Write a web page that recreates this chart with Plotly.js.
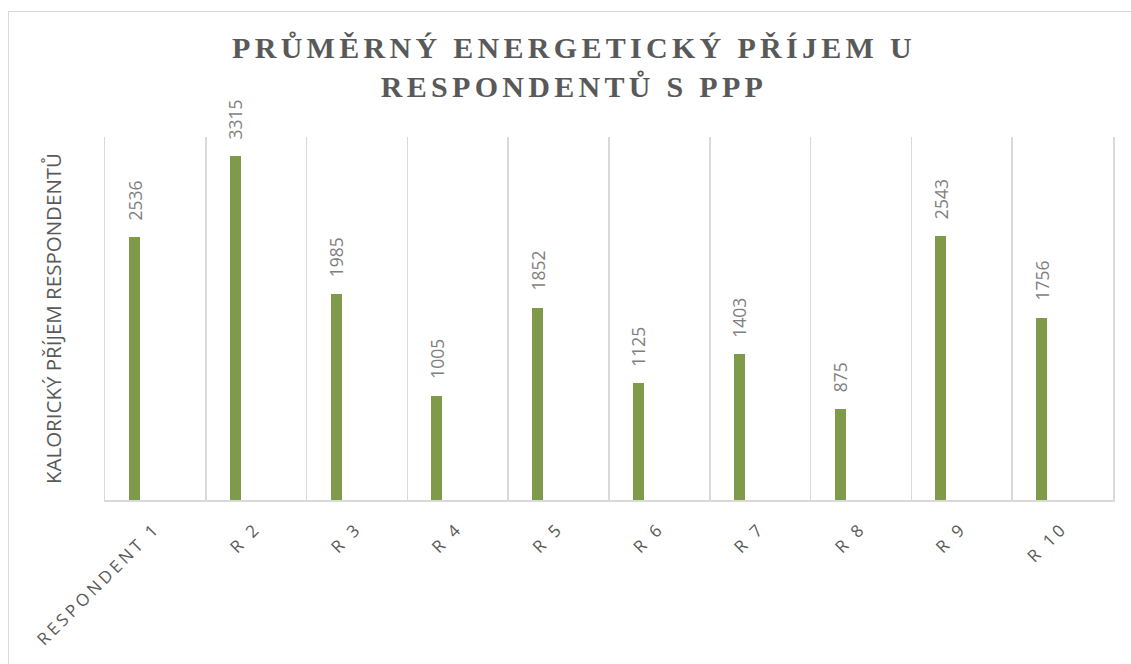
<!DOCTYPE html>
<html>
<head>
<meta charset="utf-8">
<script src="https://cdn.plot.ly/plotly-3.0.1.min.js"></script>
<style>
html, body { margin:0; padding:0; background:#ffffff; }
#frame { position:absolute; left:8px; top:11px; width:1140px; height:700px; border:1px solid #d9d9d9; box-sizing:border-box; pointer-events:none; }
#chart { position:absolute; left:0; top:0; width:1131px; height:664px; }
.gtitle { letter-spacing: 4.3px; }
.xtick text { letter-spacing: 3.5px; }
</style>
</head>
<body>
<div id="frame"></div>
<div id="chart"></div>
<script>
const categories = ["RESPONDENT 1", "R 2", "R 3", "R 4", "R 5", "R 6", "R 7", "R 8", "R 9", "R 10"];
const intake = [2536, 3315, 1985, 1005, 1852, 1125, 1403, 875, 2543, 1756];
const chartTitle = "PRŮMĚRNÝ ENERGETICKÝ PŘÍJEM U<br>RESPONDENTŮ S PPP";
const yTitle = "KALORICKÝ PŘÍJEM RESPONDENTŮ";

const barWidth = 0.109;
const barOffset = -0.262;

const trace = {
  type: "bar",
  x: categories,
  y: intake,
  width: categories.map(() => barWidth),
  offset: categories.map(() => barOffset),
  marker: { color: "#7f9a48" },
  hoverinfo: "x+y"
};

const annotations = intake.map((v, i) => ({
  x: i + barOffset + barWidth / 2,
  y: v,
  xref: "x",
  yref: "y",
  text: String(v),
  showarrow: false,
  textangle: -90,
  xanchor: "center",
  yanchor: "bottom",
  yshift: 15,
  font: { family: "Open Sans", size: 17.5, color: "#7f7f7f" }
}));

const layout = {
  width: 1131,
  height: 664,
  margin: { l: 105, r: 18, t: 137, b: 164 },
  paper_bgcolor: "rgba(0,0,0,0)",
  plot_bgcolor: "rgba(0,0,0,0)",
  showlegend: false,
  title: {
    text: chartTitle,
    font: { family: "Liberation Serif", size: 30, weight: "bold", color: "#595959" },
    xref: "container", x: 574 / 1131, xanchor: "center",
    yref: "container", y: 1 - 58 / 664, yanchor: "top"
  },
  xaxis: {
    type: "category",
    tickson: "boundaries",
    showgrid: true,
    gridcolor: "#d9d9d9",
    gridwidth: 1.5,
    showline: true,
    linecolor: "#d9d9d9",
    linewidth: 1.5,
    ticks: "",
    tickangle: -45,
    ticklabelstandoff: 10,
    tickfont: { family: "Open Sans", size: 17, color: "#595959" },
    range: [-0.5, 9.5],
    fixedrange: true
  },
  yaxis: {
    range: [0, 3500],
    showgrid: false,
    zeroline: false,
    showticklabels: false,
    showline: true,
    mirror: true,
    linecolor: "#d9d9d9",
    linewidth: 1.5,
    ticks: "",
    title: {
      text: yTitle,
      standoff: 36,
      font: { family: "Open Sans", size: 20.5, color: "#595959" }
    },
    fixedrange: true
  },
  annotations: annotations,
  bargap: 0
};

Plotly.newPlot("chart", [trace], layout, { displayModeBar: false, staticPlot: true });
</script>
</body>
</html>
